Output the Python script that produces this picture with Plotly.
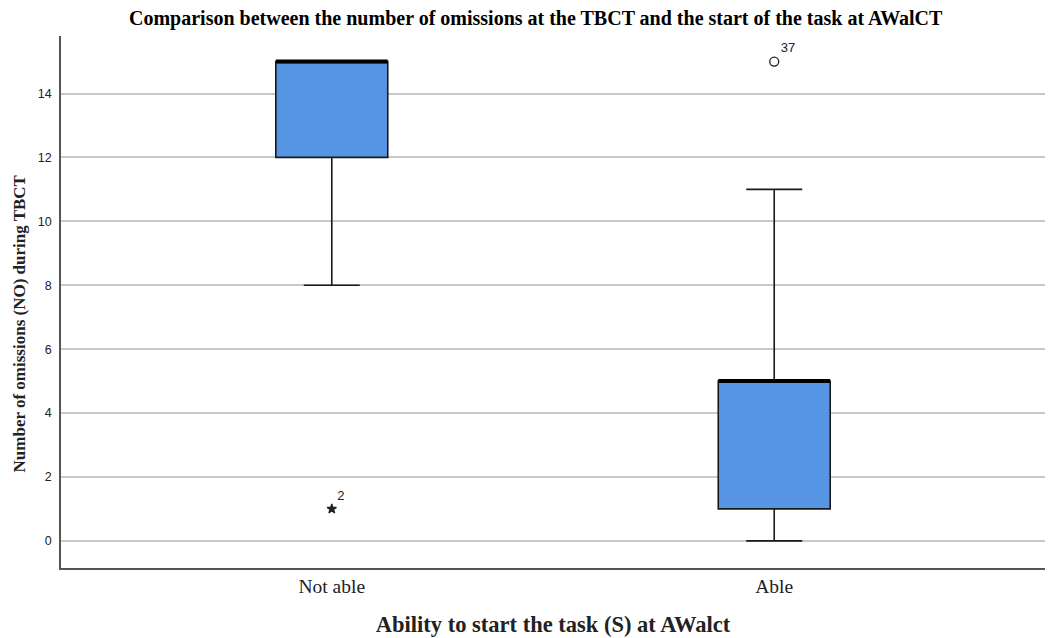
import plotly.graph_objects as go

groups = ["Not able", "Able"]
q1 = [12, 1]
medians = [15, 5]
q3 = [15, 5]
lower_whisker = [8, 0]
upper_whisker = [15, 11]

outlier_group = [0, 1]
outlier_values = [1, 15]
outlier_labels = ["2", "37"]
outlier_symbols = ["star", "circle-open"]

box_color = "#5595E3"
box_w = 0.253
serif = "Liberation Serif, Times New Roman, serif"
sans = "Liberation Sans, Arial, sans-serif"

fig = go.Figure()

for i, g in enumerate(groups):
    fig.add_trace(go.Box(
        x=[i], q1=[q1[i]], median=[medians[i]], q3=[q3[i]],
        lowerfence=[lower_whisker[i]], upperfence=[upper_whisker[i]],
        width=box_w, whiskerwidth=0.5, boxpoints=False,
        fillcolor=box_color, line=dict(color="#1a1a1a", width=1.6),
        name=g, showlegend=False, hoverinfo="skip",
    ))
    # thick median line as in SPSS
    fig.add_trace(go.Scatter(
        x=[i - box_w / 2, i + box_w / 2], y=[medians[i], medians[i]],
        mode="lines", line=dict(color="black", width=4),
        showlegend=False, hoverinfo="skip",
    ))

for gx, v, lab, sym in zip(outlier_group, outlier_values, outlier_labels, outlier_symbols):
    fig.add_trace(go.Scatter(
        x=[gx], y=[v], mode="markers+text", text=[lab],
        textposition="top right",
        textfont=dict(family=sans, size=13, color="#222"),
        marker=dict(symbol=sym, size=9 if sym == "circle-open" else 7,
                    color="#222", line=dict(width=1.3, color="#222")),
        showlegend=False, hoverinfo="skip",
    ))

# y title as annotation: it sits a bit below the middle of the axis
fig.add_annotation(
    text="<b>Number of omissions (NO) during TBCT</b>",
    xref="paper", yref="paper", x=-0.0425, y=0.46,
    xanchor="center", yanchor="middle", textangle=-90, showarrow=False,
    font=dict(family=serif, size=17, color="#222"),
)

# page body adds an 8px offset, so the figure is 8px smaller than the window
fig.update_layout(
    width=1045, height=630,
    margin=dict(l=53, r=8, t=28, b=70, autoexpand=False),
    paper_bgcolor="white", plot_bgcolor="white",
    title=dict(
        text="<b>Comparison between the number of omissions at the TBCT and the start of the task at AWalCT</b>",
        x=0.505, xanchor="center", y=0.995, yanchor="top",
        font=dict(family=serif, size=20, color="black"),
    ),
    xaxis=dict(
        range=[-0.612, 1.612], tickvals=[0, 1], ticktext=groups,
        showgrid=False, zeroline=False, showline=True,
        linecolor="#555", linewidth=1.5, ticks="",
        tickfont=dict(family=serif, size=19.5, color="#222"),
        title=dict(text="<b>Ability to start the task (S) at AWalct</b>",
                   font=dict(family=serif, size=22.5, color="#222"), standoff=20),
    ),
    yaxis=dict(
        range=[-0.85, 15.8], tickvals=[0, 2, 4, 6, 8, 10, 12, 14],
        showgrid=True, gridcolor="#c8c8c8", gridwidth=1.5,
        zeroline=False, showline=True, linecolor="#555", linewidth=1.5,
        ticks="", ticklabelstandoff=5,
        tickfont=dict(family=sans, size=12.5, color="#222"),
    ),
)

fig.write_html("out.html")
